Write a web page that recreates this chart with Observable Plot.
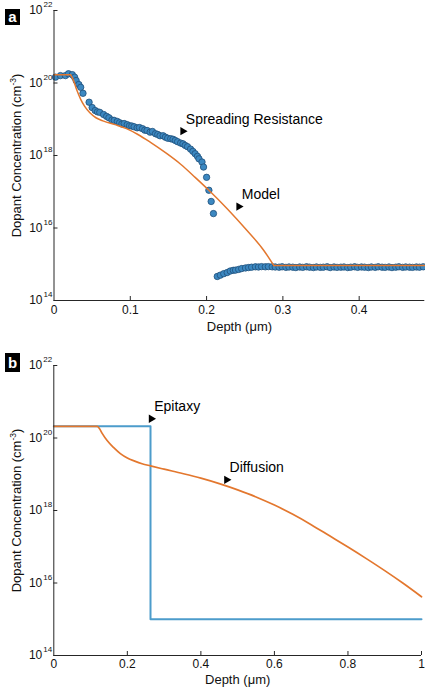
<!DOCTYPE html>
<html><head><meta charset="utf-8">
<script src="https://cdn.jsdelivr.net/npm/d3@7"></script>
<script src="https://cdn.jsdelivr.net/npm/@observablehq/plot@0.6"></script>
<style>
body{margin:0;background:#fff;font-family:"Liberation Sans",Arial,Helvetica,sans-serif;}
#wrap{position:relative;width:425px;height:691px;overflow:hidden;}
.panel{position:absolute;left:0;}
.tag{position:absolute;left:5px;width:15px;background:#000;color:#fff;font-weight:bold;font-size:15px;text-align:center;font-family:"Liberation Sans",Arial,sans-serif;}
</style></head><body>
<div id="wrap">
  <div id="pa" class="panel" style="top:0"></div>
  <div id="pb" class="panel" style="top:340px"></div>
  <div class="tag" style="top:9px;height:16px;line-height:15px">a</div>
  <div class="tag" style="top:353px;height:19px;line-height:19px">b</div>
</div>
<script>
// ---- Panel a: spreading resistance measurement ----
const srDepth = [0.002,0.0085,0.015,0.019,0.024,0.027,0.029,0.0325,0.035,0.038,
  0.046,0.050,0.054,0.057,0.060,0.065,0.069,0.072,0.076,0.079,0.083,0.086,0.089,0.092,0.096,0.099,
  0.102,0.105,0.109,0.112,0.116,0.119,0.122,0.126,0.129,0.133,0.136,0.139,0.143,0.146,0.149,0.153,
  0.156,0.159,0.162,0.166,0.169,0.172,0.175,0.179,0.182,0.185,0.188,0.190,0.194,0.196,0.200,0.203,0.206,0.209,
  0.214,0.218,0.2225,0.227,0.231,0.235,0.238,0.242,0.246,0.251,0.255,0.259,0.264,0.268,0.272,0.277,0.281,
  0.286,0.290,0.295,0.299,0.304,0.308,0.313,0.317,0.322,0.326,0.331,0.335,0.340,0.344,0.349,0.353,0.358,
  0.362,0.367,0.371,0.376,0.380,0.385,0.389,0.394,0.398,0.403,0.407,0.412,0.416,0.421,0.425,0.430,0.434,
  0.439,0.443,0.448,0.452,0.457,0.461,0.466,0.470,0.475,0.479,0.484];
const srConc = [1.45e20,1.6e20,1.6e20,1.8e20,1.7e20,1.45e20,1.17e20,9.1e19,7.6e19,5.2e19,
  2.95e19,2.1e19,1.74e19,1.6e19,1.55e19,1.35e19,1.2e19,1.1e19,9.5e18,9.3e18,8.7e18,8.0e18,7.4e18,7.6e18,7.1e18,6.6e18,
  6.5e18,6.2e18,5.8e18,5.9e18,5.5e18,5.0e18,4.9e18,4.4e18,4.6e18,4.0e18,3.8e18,3.5e18,3.5e18,3.2e18,3.0e18,2.9e18,
  2.8e18,2.6e18,2.4e18,2.2e18,2.1e18,1.9e18,1.75e18,1.5e18,1.3e18,1.12e18,9.5e17,8.1e17,6.6e17,4.8e17,2.5e17,1.1e17,5.4e16,2.5e16,
  4.6e14,5.0e14,5.5e14,5.9e14,6.5e14,6.8e14,6.9e14,7.2e14,7.6e14,7.9e14,8.1e14,8.3e14,8.5e14,8.4e14,8.6e14,8.5e14,8.6e14,
  8.5e14,8.4e14,8.3e14,8.5e14,8.2e14,8.4e14,8.3e14,8.1e14,8.4e14,8.2e14,8.5e14,8.3e14,8.1e14,8.4e14,8.2e14,8.3e14,8.5e14,
  8.1e14,8.4e14,8.2e14,8.3e14,8.4e14,8.1e14,8.3e14,8.5e14,8.2e14,8.4e14,8.3e14,8.1e14,8.4e14,8.2e14,8.5e14,8.3e14,8.2e14,
  8.4e14,8.1e14,8.3e14,8.5e14,8.2e14,8.4e14,8.3e14,8.2e14,8.4e14,8.3e14,8.5e14];
// model: flat surface part, diffusion tail, flat background
const modelDepth = [0,0.0216,0.025,0.030,0.035,0.040,0.047,0.055,0.065,0.080,0.095,0.110,0.126,0.148,0.166,0.185,0.203,0.227,0.253,0.275,0.288,0.486];
const modelConc  = [1.7e20,1.7e20,1.26e20,6.3e19,3.55e19,2.3e19,1.51e19,1.1e19,8.9e18,7.1e18,5.5e18,3.8e18,2.34e18,1.12e18,5.75e17,2.5e17,1.1e17,3.4e16,8.5e15,2.4e15,9.3e14,9.3e14];
const annLabelsA = ["Spreading Resistance","Model"];
const annDepthA = [0.1688,0.2422];
const annConcA = [4.7e18,3.9e16];
const xTicksA = [0,0.1,0.2,0.3,0.4];
const xTickLabelsA = ["0","0.1","0.2","0.3","0.4"];

// ---- Panel b: simulated profiles ----
const epiDepth = [0,0.263,0.263,1];
const epiConc  = [2.1e20,2.1e20,1e15,1e15];
const diffDepth = [0,0.118,0.124,0.132,0.145,0.163,0.181,0.20,0.22,0.24,0.263,0.30,0.35,0.40,0.45,0.50,0.55,0.60,0.65,0.70,0.75,0.80,0.85,0.90,0.95,1.0];
const diffConc  = [2.09e20,2.09e20,1.82e20,1.32e20,8.5e19,5.4e19,3.7e19,2.8e19,2.3e19,1.95e19,1.7e19,1.38e19,1.05e19,7.8e18,5.5e18,3.7e18,2.37e18,1.41e18,7.85e17,4.07e17,2.0e17,9.8e16,4.7e16,2.19e16,9.8e15,4.17e15];
const annLabelsB = ["Epitaxy","Diffusion"];
const annDepthB = [0.265,0.470];
const annConcB = [3.4e20,7.0e18];
const xTicksB = [0,0.2,0.4,0.6,0.8,1];
const xTickLabelsB = ["0","0.2","0.4","0.6","0.8","1"];

// ---- shared ----
const yTickExps = [22,20,18,16,14];
const xLabel = "Depth (μm)";
const yLabelMain = "Dopant Concentration (cm";
const yLabelSup = "-3";
const yLabelEnd = ")";
const yLabel = yLabelMain + yLabelSup + yLabelEnd;

const FONT = "Liberation Sans, Arial, Helvetica, sans-serif";
const AX = "#262626";
const ORANGE = "#E3772E";
const BLUE_DOT = "#3C88C1";
const BLUE_EDGE = "#1F4F7A";
const BLUE_LINE = "#4C9CCB";

const zip = (xs, ys) => xs.map((x, i) => ({x, y: ys[i]}));

function panel(o) {
  const fw = o.width - o.ml - o.mr, fh = o.height - o.mt - o.mb;
  const ann = o.annLabels.map((t, i) => ({t, x: o.annDepth[i], y: o.annConc[i]}));
  const svg = Plot.plot({
    width: o.width, height: o.height,
    marginTop: o.mt, marginBottom: o.mb, marginLeft: o.ml, marginRight: o.mr,
    style: {fontFamily: FONT, background: "white", overflow: "visible", color: "#111"},
    x: {domain: o.xDomain, axis: null},
    y: {type: "log", domain: [1e14, 1e22], axis: null},
    marks: [
      ...o.marks,
      Plot.dot(ann, {x: "x", y: "y", symbol: "triangle", rotate: 90, r: 3.1, fill: "black", stroke: "none"}),
      Plot.text(ann, {x: "x", y: "y", text: "t", textAnchor: "start", dx: 3, dy: -12, fontSize: 14, fill: "black"}),
      Plot.ruleY([1e14], {stroke: AX, strokeWidth: 1}),
      Plot.ruleX([o.xDomain[0]], {stroke: AX, strokeWidth: 1}),
      Plot.ruleX(o.xTicks.slice(1), {x: d => d, stroke: AX, insetTop: fh - 4}),
      Plot.ruleY(yTickExps, {y: d => 10 ** d, stroke: AX, insetRight: fw - 4}),
      Plot.text(o.xTicks, {x: d => d, frameAnchor: "bottom", dy: o.tickDy, text: (d, i) => o.xTickLabels[i], fontSize: 12, fill: "#111"}),
      Plot.text(yTickExps, {y: d => 10 ** d, frameAnchor: "left", dx: -11.5, text: () => "10", textAnchor: "end", fontSize: 12, fill: "#111"}),
      Plot.text(yTickExps, {y: d => 10 ** d, frameAnchor: "left", dx: -10.5, dy: -6, text: d => String(d), textAnchor: "start", fontSize: 8, fill: "#111"}),
      Plot.text([xLabel], {frameAnchor: "bottom", dy: o.labelDy, text: d => d, textAnchor: "middle", fontSize: 13, fill: "#111"}),
      Plot.text([yLabel], {frameAnchor: "left", dx: -37, rotate: -90, text: d => d, textAnchor: "middle", fontSize: 13, fill: "#111"})
    ]
  });
  // superscript in the y label
  svg.querySelectorAll("text").forEach(t => {
    if (t.textContent === yLabel) {
      while (t.firstChild) t.removeChild(t.firstChild);
      const ns = "http://www.w3.org/2000/svg";
      t.appendChild(document.createTextNode(yLabelMain));
      const s = document.createElementNS(ns, "tspan");
      s.setAttribute("dy", "-5"); s.setAttribute("font-size", "8.5"); s.textContent = yLabelSup;
      t.appendChild(s);
      const e = document.createElementNS(ns, "tspan");
      e.setAttribute("dy", "5"); e.textContent = yLabelEnd;
      t.appendChild(e);
    }
  });
  return svg;
}

const model = zip(modelDepth, modelConc);
const nM = model.length;
const modelStyle = {x: "x", y: "y", stroke: ORANGE, strokeWidth: 1.5, curve: "monotone-x"};

document.getElementById("pa").appendChild(panel({
  width: 425, height: 340, mt: 10, mb: 40, ml: 53.5, mr: 0.7,
  xDomain: [0, 0.486], xTicks: xTicksA, xTickLabels: xTickLabelsA, tickDy: 13, labelDy: 30,
  annLabels: annLabelsA, annDepth: annDepthA, annConc: annConcA,
  marks: [
    Plot.dot(zip(srDepth, srConc), {x: "x", y: "y", r: 3.2, fill: BLUE_DOT, stroke: BLUE_EDGE, strokeWidth: 0.8}),
    Plot.line(model.slice(0, 2), modelStyle),
    Plot.line(model.slice(1, nM - 1), modelStyle),
    Plot.line(model.slice(nM - 2), modelStyle)
  ]
}));

document.getElementById("pb").appendChild(panel({
  width: 425, height: 351, mt: 25, mb: 36, ml: 53.3, mr: 4,
  xDomain: [0, 1], xTicks: xTicksB, xTickLabels: xTickLabelsB, tickDy: 12, labelDy: 28,
  annLabels: annLabelsB, annDepth: annDepthB, annConc: annConcB,
  marks: [
    Plot.line(zip(epiDepth, epiConc), {x: "x", y: "y", stroke: BLUE_LINE, strokeWidth: 2}),
    Plot.line(zip(diffDepth, diffConc), {x: "x", y: "y", stroke: ORANGE, strokeWidth: 1.7, curve: "monotone-x"})
  ]
}));
</script>
</body></html>
